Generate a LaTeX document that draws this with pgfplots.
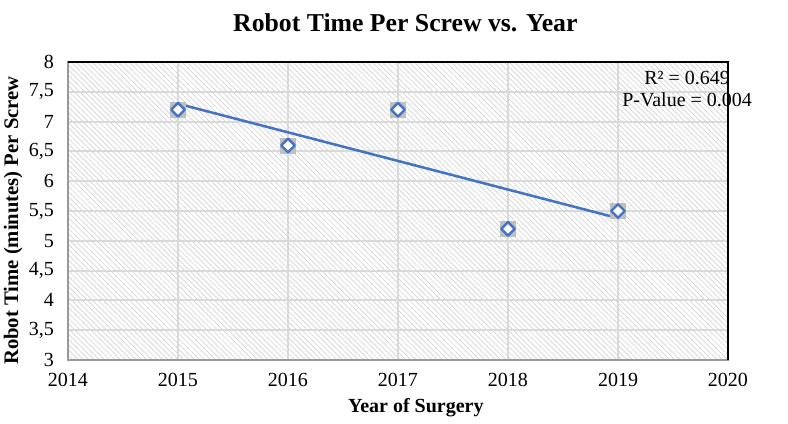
\documentclass[border=0pt]{standalone}
\usepackage{pgfplots}
\pgfplotsset{compat=1.18}
\usepackage{fontspec}
\setmainfont{Liberation Serif}
\usetikzlibrary{patterns.meta}
\definecolor{xlblue}{RGB}{68,114,196}
\definecolor{gridgray}{RGB}{217,217,217}
\definecolor{hatchgray}{RGB}{210,210,210}
\begin{document}
\begin{tikzpicture}
\begin{axis}[
  scale only axis,
  width=495pt, height=223.5pt,
  at={(0,0)}, anchor=south west,
  xmin=2014, xmax=2020, ymin=3, ymax=8,
  xtick={2014,2015,...,2020},
  ytick={3,3.5,...,8},
  /pgf/number format/assume math mode=true,
  xticklabel style={/pgf/number format/1000 sep={}, font=\fontsize{15}{17}\selectfont, yshift=-6pt},
  yticklabel style={/pgf/number format/use comma, font=\fontsize{15}{17}\selectfont, xshift=-7pt},
  tick style={draw=none},
  grid=major,
  major grid style={gridgray, line width=1.5pt},
  axis line style={draw=gray!80, line width=1.2pt},
  axis background/.style={pattern={Lines[angle=-45, distance=2.8pt, line width=0.5pt]}, pattern color=hatchgray},
  xlabel={\bfseries Year of Surgery},
  xlabel style={font=\fontsize{15}{17}\selectfont, at={(axis description cs:0.527,-0.16)}, anchor=center},
  clip=false,
]
\addplot[xlblue, line width=1.9pt, no marks] coordinates {(2015,7.30) (2019,5.38)};
\addplot[gray!50, only marks, mark=square*, mark size=5.5pt, mark options={draw=none, fill=gray!50}] coordinates {
(2015,7.2) (2016,6.6) (2017,7.2) (2018,5.2) (2019,5.5)};
\addplot[xlblue, only marks, mark=square*, mark size=3.6pt, mark options={draw=xlblue, fill=white, line width=1.8pt, rotate=45, line join=round}] coordinates {
(2015,7.2) (2016,6.6) (2017,7.2) (2018,5.2) (2019,5.5)};
\draw[black, line width=1.2pt] (rel axis cs:0,1) -- (rel axis cs:1,1) -- (rel axis cs:1,0);
\node[align=center, font=\fontsize{15}{16.5}\selectfont] at (rel axis cs:0.938,0.909) {R² = 0.649\\P-Value = 0.004};
\node[rotate=90, font=\bfseries\fontsize{15.5}{17}\selectfont] at (rel axis cs:-0.083,0.468) {Robot Time (minutes) Per Screw};
\end{axis}
\node[font=\bfseries\fontsize{19.3}{23}\selectfont] at (253pt,253pt) {Robot Time Per Screw vs. Year};
\pgfresetboundingbox
\path[use as bounding box] (-51pt,-48pt) rectangle (540pt,270pt);
\end{tikzpicture}
\end{document}
